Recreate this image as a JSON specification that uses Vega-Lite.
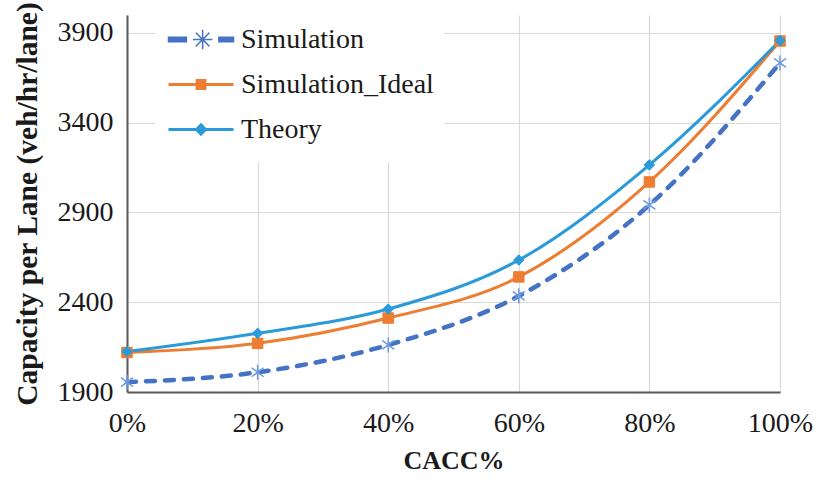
{
  "$schema": "https://vega.github.io/schema/vega-lite/v6.json",
  "width": 653,
  "height": 377,
  "autosize": {"type": "none"},
  "padding": {"left": 127, "top": 15, "right": 40, "bottom": 88},
  "background": "white",
  "config": {
    "view": {"stroke": null},
    "font": "Liberation Serif",
    "axis": {
      "labelFont": "Liberation Serif",
      "titleFont": "Liberation Serif",
      "labelColor": "#1a1a1a",
      "titleColor": "#1a1a1a",
      "gridColor": "#D9D9D9",
      "gridWidth": 1.2,
      "domainColor": "#595959",
      "domainWidth": 2,
      "ticks": false
    }
  },
  "data": {
    "values": [
      {"cacc": 0.0, "series": "Simulation", "capacity": 1955},
      {"cacc": 0.2, "series": "Simulation", "capacity": 2010},
      {"cacc": 0.4, "series": "Simulation", "capacity": 2162},
      {"cacc": 0.6, "series": "Simulation", "capacity": 2435},
      {"cacc": 0.8, "series": "Simulation", "capacity": 2942},
      {"cacc": 1.0, "series": "Simulation", "capacity": 3733},
      {"cacc": 0.0, "series": "Simulation_Ideal", "capacity": 2120},
      {"cacc": 0.2, "series": "Simulation_Ideal", "capacity": 2171},
      {"cacc": 0.4, "series": "Simulation_Ideal", "capacity": 2312},
      {"cacc": 0.6, "series": "Simulation_Ideal", "capacity": 2541},
      {"cacc": 0.8, "series": "Simulation_Ideal", "capacity": 3070},
      {"cacc": 1.0, "series": "Simulation_Ideal", "capacity": 3855},
      {"cacc": 0.0, "series": "Theory", "capacity": 2125},
      {"cacc": 0.2, "series": "Theory", "capacity": 2227},
      {"cacc": 0.4, "series": "Theory", "capacity": 2362},
      {"cacc": 0.6, "series": "Theory", "capacity": 2635},
      {"cacc": 0.8, "series": "Theory", "capacity": 3165},
      {"cacc": 1.0, "series": "Theory", "capacity": 3858}
    ]
  },
  "encoding": {
    "x": {
      "field": "cacc",
      "type": "quantitative",
      "scale": {"domain": [0, 1]},
      "axis": {
        "title": "CACC%",
        "values": [0, 0.2, 0.4, 0.6, 0.8, 1.0],
        "format": ".0%",
        "labelFontSize": 28,
        "labelPadding": 17,
        "labelFlush": false,
        "titleFontSize": 26,
        "titleFontWeight": "bold",
        "titlePadding": 10,
        "grid": true
      }
    },
    "y": {
      "field": "capacity",
      "type": "quantitative",
      "scale": {"domain": [1900, 4000]},
      "axis": {
        "title": "Capacity  per Lane (veh/hr/lane)",
        "values": [1900, 2400, 2900, 3400, 3900],
        "format": "d",
        "labelFontSize": 28,
        "labelPadding": 14,
        "titleFontSize": 29.5,
        "titleFontWeight": "bold",
        "titlePadding": 15,
        "grid": true
      }
    }
  },
  "layer": [
    {
      "transform": [{"filter": "datum.series === 'Simulation'"}],
      "mark": {"type": "line", "interpolate": "monotone", "strokeWidth": 4.5, "strokeDash": [9, 10], "strokeCap": "round"},
      "encoding": {
        "color": {
          "field": "series",
          "type": "nominal",
          "scale": {"domain": ["Simulation", "Simulation_Ideal", "Theory"], "range": ["#4472C4", "#ED7D31", "#2A9AD8"]},
          "legend": {
            "title": null,
            "orient": "none",
            "legendX": 28,
            "legendY": -8,
            "fillColor": "white",
            "padding": 10,
            "symbolSize": 4225,
            "symbolStrokeWidth": 3,
            "symbolOffset": 22,
            "labelFontSize": 28,
            "labelFont": "Liberation Serif",
            "labelColor": "#1a1a1a",
            "labelOffset": 26,
            "labelLimit": 400,
            "clipHeight": 45,
            "rowPadding": 0,
            "encode": {
              "symbols": {
                "update": {
                  "shape": {"signal": "datum.value === 'Simulation' ? 'M-1,-0.07H-0.45V0.07H-1ZM0.55,-0.07H1V0.07H0.55ZM0.05,-0.3V0.3M-0.16,-0.21L0.26,0.21M-0.16,0.21L0.26,-0.21M-0.25,0H0.35' : datum.value === 'Simulation_Ideal' ? 'M-1,0H1M-0.12,-0.12H0.12V0.12H-0.12Z' : 'M-1,0H1M0,-0.14L0.14,0L0,0.14L-0.14,0Z'"},
                  "fill": {"signal": "scale('color', datum.value)"},
                  "stroke": {"signal": "datum.value === 'Simulation' ? '#6F9BE0' : scale('color', datum.value)"},
                  "strokeWidth": {"signal": "datum.value === 'Simulation' ? 1.5 : 3"},
                  "strokeDash": {"value": [1, 0]},
                  "opacity": {"value": 1},
                  "fillOpacity": {"value": 1},
                  "strokeOpacity": {"value": 1}
                }
              }
            }
          }
        }
      }
    },
    {
      "transform": [{"filter": "datum.series === 'Simulation_Ideal'"}],
      "mark": {"type": "line", "interpolate": "monotone", "strokeWidth": 3, "color": "#ED7D31"},
      "encoding": {}
    },
    {
      "transform": [{"filter": "datum.series === 'Theory'"}],
      "mark": {"type": "line", "interpolate": "monotone", "strokeWidth": 3, "color": "#2A9AD8"},
      "encoding": {}
    },
    {
      "transform": [{"filter": "datum.series === 'Simulation'"}],
      "mark": {"type": "point", "shape": "M0,-1V1M-0.8,-0.6L0.8,0.6M-0.8,0.6L0.8,-0.6", "size": 225, "strokeWidth": 1.5, "opacity": 1, "filled": false, "stroke": "#6F9BE0"},
      "encoding": {}
    },
    {
      "transform": [{"filter": "datum.series === 'Simulation_Ideal'"}],
      "mark": {"type": "point", "shape": "square", "size": 110, "strokeWidth": 1, "opacity": 1, "filled": true, "fill": "#ED7D31", "stroke": "#ED7D31"},
      "encoding": {}
    },
    {
      "transform": [{"filter": "datum.series === 'Theory'"}],
      "mark": {"type": "point", "shape": "diamond", "size": 110, "strokeWidth": 1, "opacity": 1, "filled": true, "fill": "#2A9AD8", "stroke": "#2A9AD8"},
      "encoding": {}
    }
  ]
}
